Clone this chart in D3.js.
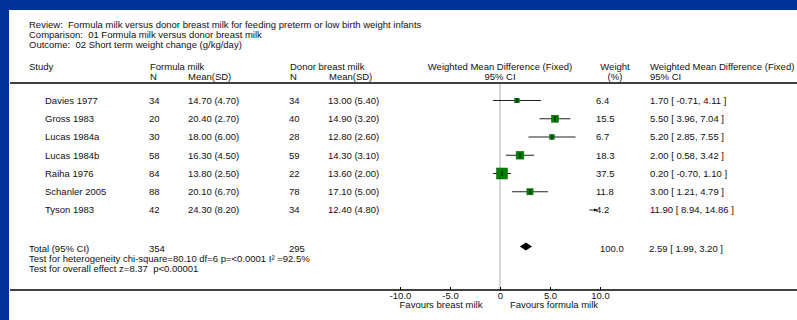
<!DOCTYPE html>
<html>
<head>
<meta charset="utf-8">
<script src="https://cdn.jsdelivr.net/npm/d3@7"></script>
<style>
  body { margin: 0; background: #fff; }
  svg { display: block; }
  text { font-family: "Liberation Sans", Arial, sans-serif; font-size: 9.5px; fill: #111; white-space: pre; }
</style>
</head>
<body>
<svg id="chart" width="797" height="320"></svg>
<script>
/* data */
const titleLines = [
  "Review:  Formula milk versus donor breast milk for feeding preterm or low birth weight infants",
  "Comparison:  01 Formula milk versus donor breast milk",
  "Outcome:  02 Short term weight change (g/kg/day)"
]
const studies = ["Davies 1977", "Gross 1983", "Lucas 1984a", "Lucas 1984b", "Raiha 1976", "Schanler 2005", "Tyson 1983"]
const formulaN = [34, 20, 30, 58, 84, 88, 42]
const formulaMean = ["14.70 (4.70)", "20.40 (2.70)", "18.00 (6.00)", "16.30 (4.50)", "13.80 (2.50)", "20.10 (6.70)", "24.30 (8.20)"]
const donorN = [34, 40, 28, 59, 22, 78, 34]
const donorMean = ["13.00 (5.40)", "14.90 (3.20)", "12.80 (2.60)", "14.30 (3.10)", "13.60 (2.00)", "17.10 (5.00)", "12.40 (4.80)"]
const weights = [6.4, 15.5, 6.7, 18.3, 37.5, 11.8, 4.2]
const wmd = [1.70, 5.50, 5.20, 2.00, 0.20, 3.00, 11.90]
const ciLow = [-0.71, 3.96, 2.85, 0.58, -0.70, 1.21, 8.94]
const ciHigh = [4.11, 7.04, 7.55, 3.42, 1.10, 4.79, 14.86]
const total = { label: "Total (95% CI)", formulaN: 354, donorN: 295, weight: 100.0, wmd: 2.59, lo: 1.99, hi: 3.20 }
const testLines = [
  "Test for heterogeneity chi-square=80.10 df=6 p=<0.0001 I\u00b2 =92.5%",
  "Test for overall effect z=8.37  p<0.00001"
]
const xTicks = [-10, -5, 0, 5, 10]
const favourLabels = ["Favours breast milk", "Favours formula milk"]

/* layout */
const width = 797
const height = 320
const svg = d3.select("#chart")

svg.append("rect").attr("width", width).attr("height", height).attr("fill", "#003399")
svg.append("rect").attr("x", 9).attr("y", 10).attr("width", width - 9).attr("height", height - 10).attr("fill", "#fff")

const x = d3.scaleLinear([-10, 10], [400, 600])
const y = d3.scalePoint(studies, [100.5, 210])
const size = d3.scaleSqrt([0, 37.5], [0, 11])
const fmt = d => d.toFixed(2)
const ciText = (m, lo, hi) => `${fmt(m)} [ ${fmt(lo)}, ${fmt(hi)} ]`

/* title block */
svg.append("g")
.selectAll("text")
.data(titleLines)
.join("text")
.attr("x", 29)
.attr("y", (d, i) => 25 + i * 10)
.attr("dy", "0.35em")
.text(d => d)

/* column headers */
const headers = [
  ["Study", 29, 67, "start"],
  ["Formula milk", 150, 67, "start"],
  ["N", 150, 77, "start"],
  ["Mean(SD)", 188, 77, "start"],
  ["Donor breast milk", 290, 67, "start"],
  ["N", 290, 77, "start"],
  ["Mean(SD)", 329, 77, "start"],
  ["Weighted Mean Difference (Fixed)", 500, 67, "middle"],
  ["95% CI", 500, 77, "middle"],
  ["Weight", 615, 67, "middle"],
  ["(%)", 615, 77, "middle"],
  ["Weighted Mean Difference (Fixed)", 650, 67, "start"],
  ["95% CI", 650, 77, "start"]
]
svg.append("g")
.selectAll("text")
.data(headers)
.join("text")
.attr("x", d => d[1])
.attr("y", d => d[2])
.attr("dy", "0.35em")
.attr("text-anchor", d => d[3])
.text(d => d[0])

svg.append("line")
.attr("x1", 10).attr("x2", width)
.attr("y1", 83).attr("y2", 83)
.attr("stroke", "#000").attr("stroke-width", 1.5)

/* zero line */
svg.append("line")
.attr("x1", x(0)).attr("x2", x(0))
.attr("y1", 84).attr("y2", 290)
.attr("stroke", "#c8c8c8").attr("stroke-width", 1.5)

/* study rows */
const rows = svg.append("g")
.selectAll("g")
.data(studies)
.join("g")
.attr("transform", d => `translate(0,${y(d)})`)

const cols = [
  [(d, i) => d, 45],
  [(d, i) => formulaN[i], 149],
  [(d, i) => formulaMean[i], 188],
  [(d, i) => donorN[i], 289],
  [(d, i) => donorMean[i], 328],
  [(d, i) => weights[i].toFixed(1), 596],
  [(d, i) => ciText(wmd[i], ciLow[i], ciHigh[i]), 650]
]
for (const [fn, cx] of cols) {
  rows.append("text")
  .attr("x", cx)
  .attr("dy", "0.35em")
  .text(fn)
}

svg.append("defs").append("marker")
.attr("id", "arrow")
.attr("viewBox", "0 0 10 10")
.attr("refX", 10).attr("refY", 5)
.attr("markerWidth", 4).attr("markerHeight", 4)
.attr("orient", "auto")
.append("path")
.attr("d", "M0,1L10,5L0,9z")
.attr("fill", "#000")

/* CI lines, clipped to the axis range with an arrow when cut */
rows.append("line")
.attr("x1", (d, i) => x(Math.max(ciLow[i], -10)))
.attr("x2", (d, i) => ciHigh[i] > 10 ? x(10) - 2.5 : x(ciHigh[i]))
.attr("stroke", "#222")
.attr("stroke-width", 1)
.attr("marker-end", (d, i) => ciHigh[i] > 10 ? "url(#arrow)" : null)

const inRange = studies.filter((d, i) => wmd[i] >= -10 && wmd[i] <= 10)
svg.append("g")
.selectAll("rect")
.data(inRange)
.join("rect")
.attr("x", d => { const i = studies.indexOf(d); return x(wmd[i]) - size(weights[i]) / 2 })
.attr("y", d => { const i = studies.indexOf(d); return y(d) - size(weights[i]) / 2 })
.attr("width", d => size(weights[studies.indexOf(d)]))
.attr("height", d => size(weights[studies.indexOf(d)]))
.attr("fill", "#008000")
.attr("stroke", "#0a5a0a")
.attr("stroke-width", 0.5)

svg.append("g")
.selectAll("line")
.data(inRange)
.join("line")
.attr("x1", d => x(wmd[studies.indexOf(d)]))
.attr("x2", d => x(wmd[studies.indexOf(d)]))
.attr("y1", d => y(d) - 2.5)
.attr("y2", d => y(d) + 2.5)
.attr("stroke", "#000")
.attr("stroke-width", 1)

/* total row */
const totalY = 249
const totalCells = [
  [total.label, 29],
  [total.formulaN, 149],
  [total.donorN, 289],
  [total.weight.toFixed(1), 600],
  [ciText(total.wmd, total.lo, total.hi), 649]
]
svg.append("g")
.selectAll("text")
.data(totalCells)
.join("text")
.attr("x", d => d[1])
.attr("y", totalY)
.attr("dy", "0.35em")
.text(d => d[0])

svg.append("path")
.attr("d", d3.line()([
  [x(total.lo), totalY - 2.5],
  [x(total.wmd), totalY - 6.5],
  [x(total.hi), totalY - 2.5],
  [x(total.wmd), totalY + 1.5]
]) + "Z")
.attr("fill", "#000")

svg.append("g")
.selectAll("text")
.data(testLines)
.join("text")
.attr("x", 29)
.attr("y", (d, i) => 259 + i * 10)
.attr("dy", "0.35em")
.text(d => d)

/* axis */
svg.append("line")
.attr("x1", 10).attr("x2", width)
.attr("y1", 290).attr("y2", 290)
.attr("stroke", "#000").attr("stroke-width", 1.5)

svg.append("g")
.attr("transform", "translate(0,290)")
.call(d3.axisBottom(x).tickValues(xTicks).tickSize(-3).tickPadding(2)
  .tickFormat(d => d === 0 ? "0" : d3.format(".1f")(d).replace("\u2212", "-")))
.call(g => g.select(".domain").remove())
.call(g => g.selectAll(".tick text").attr("font-size", null).attr("font-family", null))

svg.append("g")
.selectAll("text")
.data(favourLabels)
.join("text")
.attr("x", (d, i) => i === 0 ? 441 : 554)
.attr("y", 305)
.attr("dy", "0.35em")
.attr("text-anchor", "middle")
.text(d => d)
</script>
</body>
</html>
